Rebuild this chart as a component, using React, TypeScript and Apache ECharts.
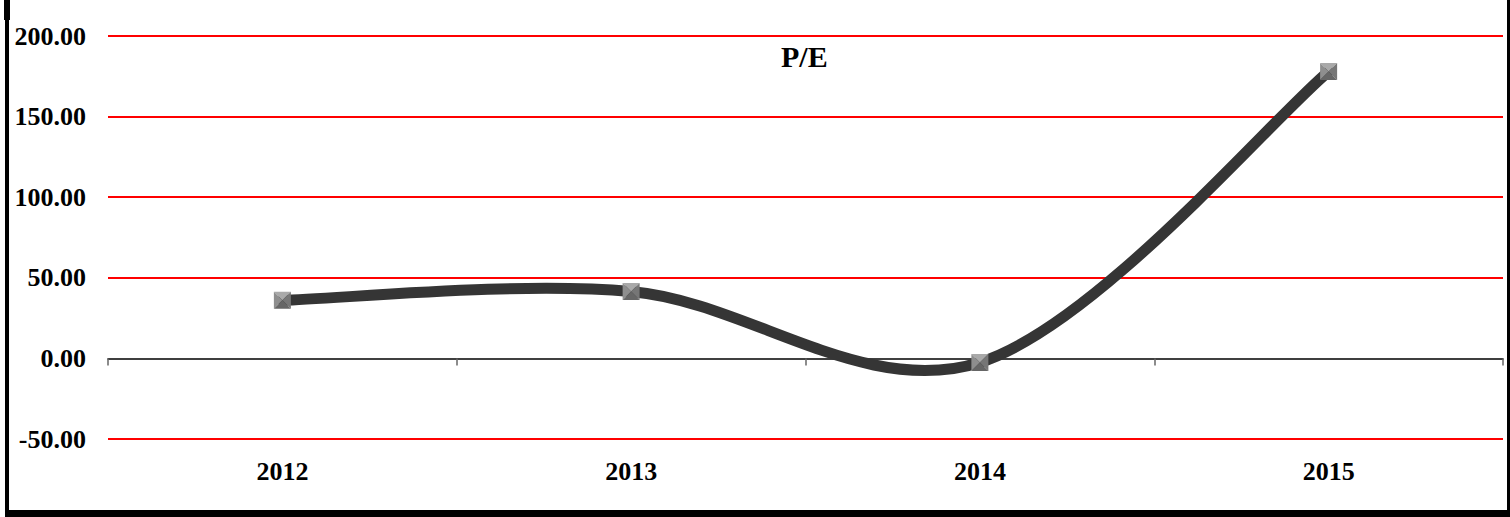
import React, { useEffect, useRef } from "react";
import * as echarts from "echarts";

const categories = ["2012", "2013", "2014", "2015"];
const peValues = [36.0, 41.5, -2.5, 178.0];
const yTicks = { min: -50, max: 200, interval: 50 };
const chartTitle = "P/E";

const FONT = "'Liberation Serif', 'Times New Roman', serif";

export default function App() {
  const ref = useRef<HTMLDivElement>(null);
  useEffect(() => {
    if (!ref.current) return;
    const chart = echarts.init(ref.current, undefined, { renderer: "svg" });
    const option: any = {
      animation: false,
      backgroundColor: "#ffffff",
      grid: { left: 108, right: 7, top: 36, bottom: 78, containLabel: false },
      xAxis: [
        {
          type: "category",
          data: categories,
          boundaryGap: true,
          position: "bottom",
          axisLine: { show: true, onZero: true, lineStyle: { color: "#000", width: 1.5 } },
          axisTick: { show: true, length: 7, lineStyle: { color: "#666", width: 1.5 } },
          axisLabel: { show: false },
          splitLine: { show: false },
        },
        {
          type: "category",
          data: categories,
          boundaryGap: true,
          position: "bottom",
          axisLine: { show: false, onZero: false },
          axisTick: { show: false },
          axisLabel: {
            show: true,
            margin: 19,
            color: "#000",
            fontFamily: FONT,
            fontWeight: "bold",
            fontSize: 26,
          },
          splitLine: { show: false },
        },
      ],
      yAxis: {
        type: "value",
        min: yTicks.min,
        max: yTicks.max,
        interval: yTicks.interval,
        axisLine: { show: false },
        axisTick: { show: false },
        axisLabel: {
          margin: 22,
          color: "#000",
          fontFamily: FONT,
          fontWeight: "bold",
          fontSize: 26,
          formatter: (v: number) => v.toFixed(2),
        },
        splitLine: {
          show: true,
          lineStyle: {
            width: 2,
            color: ["#ff0000", "rgba(0,0,0,0)", "#ff0000", "#ff0000", "#ff0000", "#ff0000"],
          },
        },
      },
      series: [
        {
          type: "custom",
          xAxisIndex: 0,
          data: peValues.map((v, i) => [i, v]),
          z: 3,
          renderItem: (params: any, api: any) => {
            if (params.dataIndex !== 0) return null;
            const pts = peValues.map((v, i) => api.coord([i, v]));
            let d = `M${pts[0][0]},${pts[0][1]}`;
            for (let i = 0; i < pts.length - 1; i++) {
              const p0 = pts[Math.max(0, i - 1)];
              const p1 = pts[i];
              const p2 = pts[i + 1];
              const p3 = pts[Math.min(pts.length - 1, i + 2)];
              const c1x = p1[0] + (p2[0] - p0[0]) / 6;
              const c1y = p1[1] + (p2[1] - p0[1]) / 6;
              const c2x = p2[0] - (p3[0] - p1[0]) / 6;
              const c2y = p2[1] - (p3[1] - p1[1]) / 6;
              d += ` C${c1x},${c1y} ${c2x},${c2y} ${p2[0]},${p2[1]}`;
            }
            return {
              type: "path",
              shape: { pathData: d },
              style: { fill: "none", stroke: "#353535", lineWidth: 11, lineCap: "round", lineJoin: "round" },
            };
          },
        },
        {
          type: "custom",
          xAxisIndex: 0,
          data: peValues.map((v, i) => [i, v]),
          z: 5,
          renderItem: (params: any, api: any) => {
            const p = api.coord([api.value(0), api.value(1)]);
            const h = 8.5;
            const x0 = p[0] - h, x1 = p[0] + h, y0 = p[1] - h, y1 = p[1] + h;
            const cx = p[0], cy = p[1];
            return {
              type: "group",
              children: [
                { type: "polygon", shape: { points: [[x0, y0], [x1, y0], [cx, cy]] }, style: { fill: "#a9a9a9" } },
                { type: "polygon", shape: { points: [[x0, y0], [x0, y1], [cx, cy]] }, style: { fill: "#8e8e8e" } },
                { type: "polygon", shape: { points: [[x1, y0], [x1, y1], [cx, cy]] }, style: { fill: "#767676" } },
                { type: "polygon", shape: { points: [[x0, y1], [x1, y1], [cx, cy]] }, style: { fill: "#666666" } },
              ],
            };
          },
        },
      ],
      graphic: [
        {
          type: "text",
          left: 781,
          top: 41,
          style: {
            text: chartTitle,
            fill: "#000",
            font: `bold 30px ${FONT}`,
          },
          z: 10,
        },
        { type: "rect", shape: { x: 5, y: 0, width: 4, height: 517 }, style: { fill: "#000" }, z: 10 },
        { type: "rect", shape: { x: 4, y: 0, width: 6, height: 20 }, style: { fill: "#000" }, z: 10 },
        { type: "rect", shape: { x: 5, y: 510, width: 1505, height: 7 }, style: { fill: "#000" }, z: 10 },
        { type: "rect", shape: { x: 1507, y: 0, width: 3, height: 517 }, style: { fill: "#000" }, z: 10 },
      ],
    };
    chart.setOption(option);
    return () => chart.dispose();
  }, []);
  return (
    <div
      ref={ref}
      style={{ position: "fixed", left: 0, top: 0, width: 1510, height: 517, background: "#fff" }}
    />
  );
}
